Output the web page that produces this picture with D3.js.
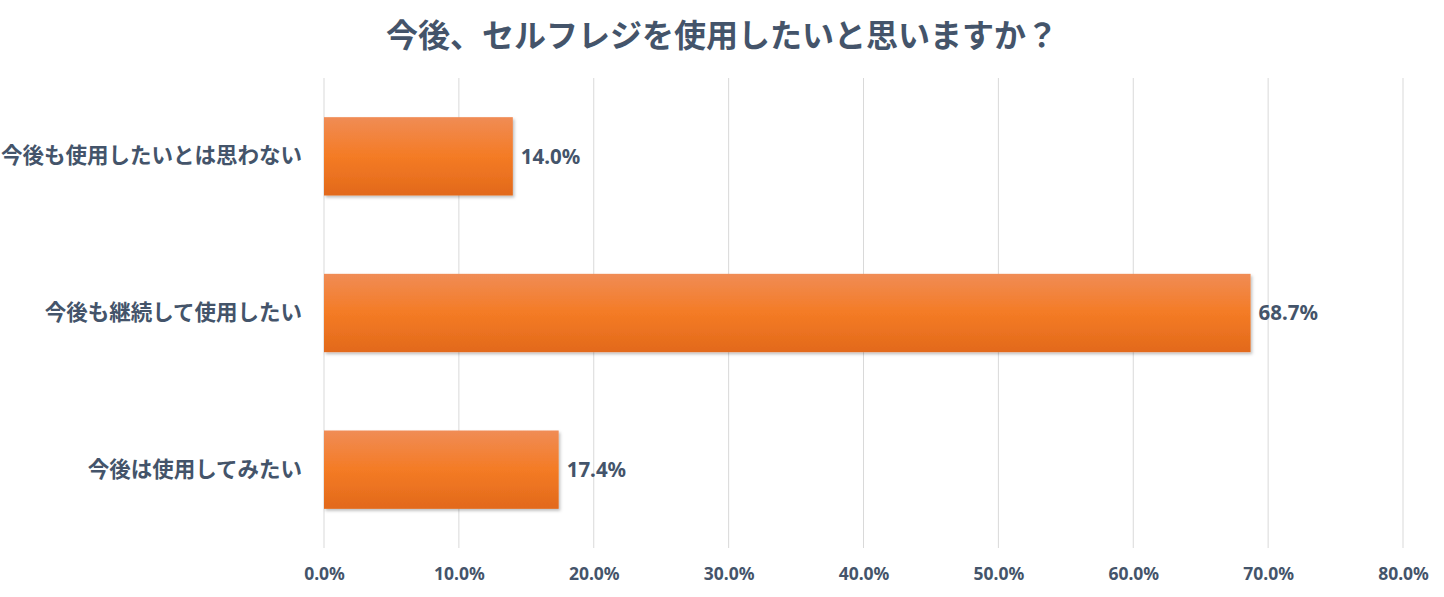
<!DOCTYPE html>
<html>
<head>
<meta charset="utf-8">
<script src="https://cdn.jsdelivr.net/npm/d3@7"></script>
<style>
  body { margin: 0; background: #fff; }
  text { font-family: "Noto Sans CJK JP", "Noto Sans", sans-serif; }
</style>
</head>
<body>
<div class="chart"></div>
<script>
"use strict";

// data
const categories = ["今後も使用したいとは思わない", "今後も継続して使用したい", "今後は使用してみたい"];
const values = [14.0, 68.7, 17.4];
const tickValues = [0, 10, 20, 30, 40, 50, 60, 70, 80];
const titleText = "今後、セルフレジを使用したいと思いますか？";

const W = 1444, H = 597;
const margin = { top: 78, right: 41, bottom: 49, left: 324 };
const textColor = "#44546a";

const svg = d3.select(".chart").append("svg")
  .attr("width", W)
  .attr("height", H);

const defs = svg.append("defs");
let grad = defs.append("linearGradient")
  .attr("id", "barGrad")
  .attr("x1", 0).attr("y1", 0).attr("x2", 0).attr("y2", 1);
grad.append("stop").attr("offset", "0%").attr("stop-color", "#f08c55");
grad.append("stop").attr("offset", "50%").attr("stop-color", "#f47b25");
grad.append("stop").attr("offset", "100%").attr("stop-color", "#e2691b");

let shadow = defs.append("filter").attr("id", "shadow")
  .attr("x", "-5%").attr("y", "-5%").attr("width", "110%").attr("height", "120%");
shadow.append("feDropShadow")
  .attr("dx", 1.5).attr("dy", 2).attr("stdDeviation", 1.5)
  .attr("flood-color", "#000").attr("flood-opacity", 0.25);

const x = d3.scaleLinear()
  .domain([0, 80])
  .range([margin.left, W - margin.right]);

const y = d3.scaleBand()
  .domain(categories)
  .range([margin.top, H - margin.bottom])
  .paddingInner(0.5)
  .paddingOuter(0.25);

// gridlines
svg.append("g")
  .selectAll("line")
  .data(tickValues)
  .join("line")
  .attr("x1", d => x(d)).attr("x2", d => x(d))
  .attr("y1", margin.top).attr("y2", H - margin.bottom)
  .attr("stroke", "#d9d9d9")
  .attr("stroke-width", 1);

// x axis (labels only)
const xAxis = svg.append("g")
  .attr("transform", "translate(0," + (H - margin.bottom) + ")")
  .call(d3.axisBottom(x).tickValues(tickValues).tickSize(0).tickPadding(20)
    .tickFormat(d => d.toFixed(1) + "%"));
xAxis.select(".domain").remove();
xAxis.selectAll("text")
  .attr("fill", textColor)
  .style("font-size", "17.5px")
  .style("font-weight", "bold")
  .style("font-family", "'Noto Sans', 'DejaVu Sans', sans-serif");

// y axis (labels only)
const yAxis = svg.append("g")
  .attr("transform", "translate(" + margin.left + ",0)")
  .call(d3.axisLeft(y).tickSize(0).tickPadding(22));
yAxis.select(".domain").remove();
yAxis.selectAll("text")
  .attr("fill", textColor)
  .style("font-size", "21.5px")
  .style("font-weight", "bold");

// bars
svg.append("g")
  .selectAll("rect")
  .data(values)
  .join("rect")
  .attr("x", x(0))
  .attr("y", (d, i) => y(categories[i]))
  .attr("width", d => x(d) - x(0))
  .attr("height", y.bandwidth())
  .attr("fill", "url(#barGrad)")
  .attr("filter", "url(#shadow)");

// value labels
svg.append("g")
  .selectAll("text")
  .data(values)
  .join("text")
  .attr("x", d => x(d) + 8)
  .attr("y", (d, i) => y(categories[i]) + y.bandwidth() / 2)
  .attr("dy", "0.35em")
  .attr("fill", textColor)
  .style("font-size", "20.5px")
  .style("font-weight", "bold")
  .style("font-family", "'Noto Sans', 'DejaVu Sans', sans-serif")
  .text(d => d.toFixed(1) + "%");

// title
svg.append("text")
  .attr("x", W / 2)
  .attr("y", 47)
  .attr("text-anchor", "middle")
  .attr("fill", textColor)
  .style("font-size", "32px")
  .style("font-weight", "bold")
  .text(titleText);
</script>
</body>
</html>
